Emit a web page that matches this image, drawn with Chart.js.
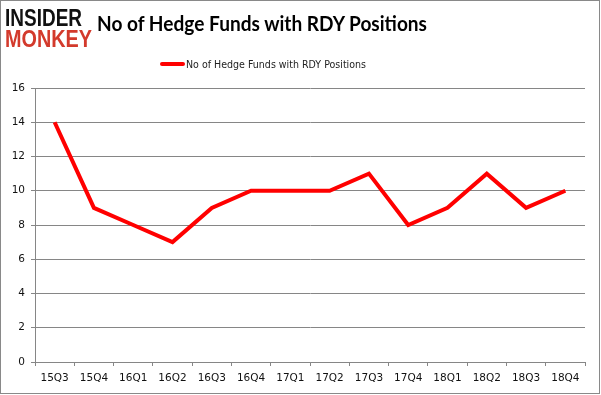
<!DOCTYPE html>
<html>
<head>
<meta charset="utf-8">
<script src="https://cdn.jsdelivr.net/npm/chart.js@4.4.0/dist/chart.umd.min.js"></script>
<style>
  html, body { margin: 0; padding: 0; background: #fff; }
  #wrap { position: relative; width: 601px; height: 395px; overflow: hidden; }
  #frame { position: absolute; left: 0; top: 0; width: 598px; height: 392px; border: 1px solid #898989; pointer-events: none; }
  canvas { position: absolute; left: 0; top: 0; }
  .logo { position: absolute; left: 5px; font-family: "Liberation Sans", sans-serif; font-weight: bold; transform-origin: 0 0; white-space: nowrap; line-height: 1; }
  #logo1 { top: 7px; font-size: 23px; color: #111; }
  #logo2 { top: 28px; font-size: 23px; color: #d33a2c; }
  #title { position: absolute; left: 97px; top: 10px; font-family: Lato, "Open Sans", sans-serif; font-weight: bold; font-size: 21.5px; color: #000; white-space: nowrap; transform-origin: 0 0; }
  #legend { position: absolute; left: 160px; top: 54px; white-space: nowrap; }
  #legend span.sw { display: inline-block; width: 25px; height: 4px; background: #ff0000; border-radius: 2px; vertical-align: middle; margin-right: 1px; }
  #legtext { display: inline-block; font-family: "DejaVu Sans", sans-serif; font-size: 11px; color: #222; vertical-align: middle; transform-origin: 0 50%; }
</style>
</head>
<body>
<div id="wrap">
  <canvas id="myChart" width="601" height="395"></canvas>
  <div class="logo" id="logo1">INSIDER</div>
  <div class="logo" id="logo2">MONKEY</div>
  <div id="title">No of Hedge Funds with RDY Positions</div>
  <div id="legend"><span class="sw"></span><span id="legtext">No of Hedge Funds with RDY Positions</span></div>
  <div id="frame"></div>
</div>
<script>
// data
const quarters = ['15Q3', '15Q4', '16Q1', '16Q2', '16Q3', '16Q4', '17Q1', '17Q2', '17Q3', '17Q4', '18Q1', '18Q2', '18Q3', '18Q4'];
const fundCounts = [14, 9, 8, 7, 9, 10, 10, 10, 11, 8, 9, 11, 9, 10];
const yTicks = [0, 2, 4, 6, 8, 10, 12, 14, 16];
const seriesName = 'No of Hedge Funds with RDY Positions';

// lebar teks dipaskan dengan gambar asli
function fitWidth(id, w) {
    const el = document.getElementById(id);
    const actual = el.getBoundingClientRect().width;
    el.style.transform = 'scaleX(' + (w / actual) + ')';
}
fitWidth('logo1', 77);
fitWidth('logo2', 87);
fitWidth('title', 330);
fitWidth('legtext', 180);

const gridColor = '#868686';
const tickFont = { family: '"DejaVu Sans", sans-serif', size: 10.5 };

const ctx = document.getElementById('myChart').getContext('2d');
new Chart(ctx, {
    type: 'line',
    data: {
        labels: quarters,
        datasets: [{
            label: seriesName,
            data: fundCounts,
            borderColor: '#ff0000',
            backgroundColor: '#ff0000',
            borderWidth: 4,
            pointRadius: 0,
            tension: 0,
            fill: false
        }]
    },
    options: {
        responsive: false,
        animation: false,
        layout: { padding: { top: 88, left: 0, right: 16, bottom: 0 } },
        plugins: {
            legend: { display: false },
            title: { display: false },
            tooltip: { enabled: false }
        },
        scales: {
            x: {
                type: 'category',
                offset: true,
                grid: { offset: true, drawOnChartArea: false, drawTicks: true, tickLength: 4, color: gridColor },
                border: { color: gridColor },
                ticks: { color: '#111', font: tickFont, padding: 6, maxRotation: 0, autoSkip: false },
                afterFit: function(axis) { axis.height = 33; }
            },
            y: {
                min: 0,
                max: 16,
                afterBuildTicks: function(axis) { axis.ticks = yTicks.map(v => ({ value: v })); },
                grid: { color: gridColor, tickLength: 4 },
                border: { color: gridColor },
                ticks: { color: '#111', font: tickFont, padding: 6 },
                afterFit: function(axis) { axis.width = 35; }
            }
        }
    }
});
</script>
</body>
</html>
